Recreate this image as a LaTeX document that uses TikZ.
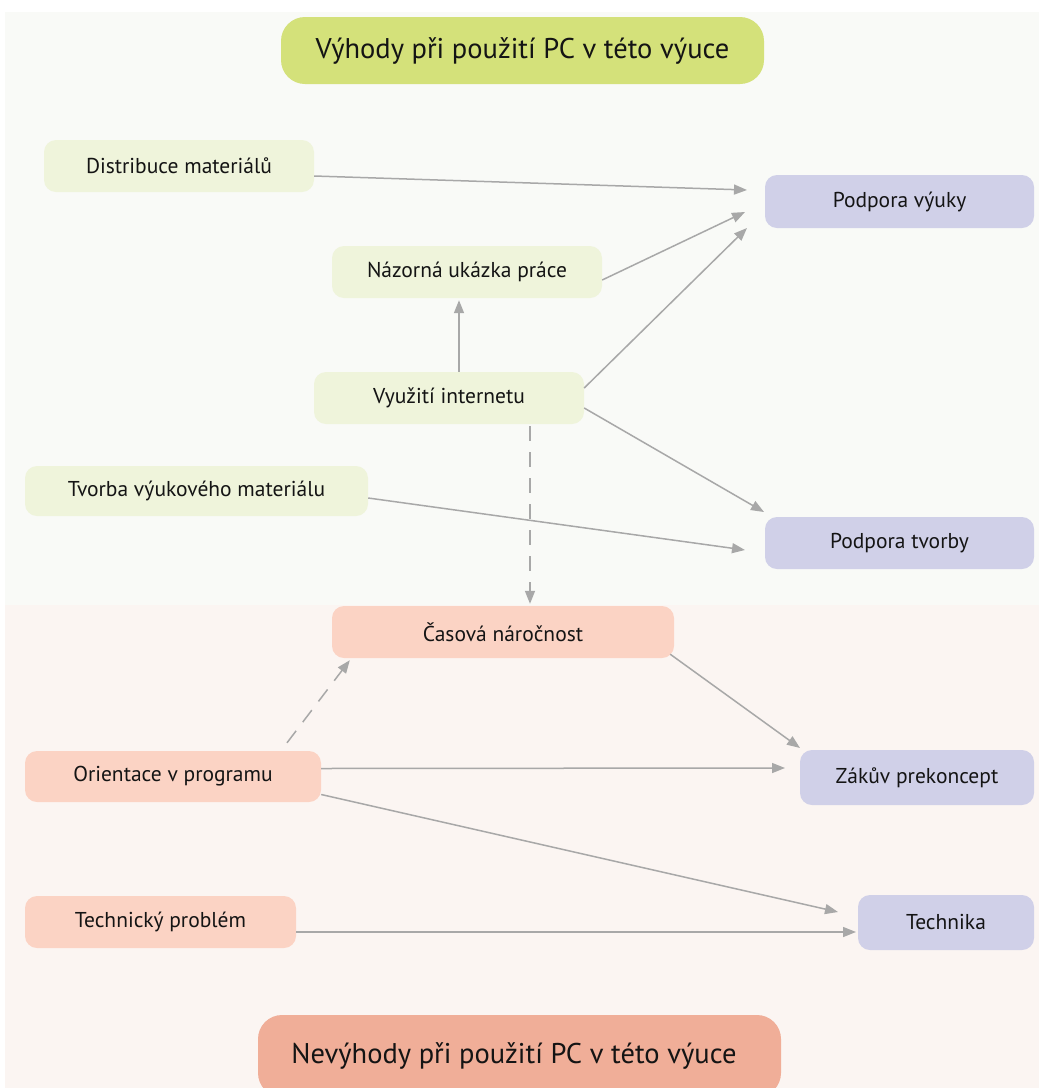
\documentclass[tikz,border=0pt]{standalone}
\usepackage{fontspec}
\setmainfont{PT Sans}
\usetikzlibrary{arrows.meta,calc}
\definecolor{bgtop}{RGB}{249,250,247}
\definecolor{bgbot}{RGB}{251,245,242}
\definecolor{gtitle}{RGB}{212,225,122}
\definecolor{gnode}{RGB}{239,244,219}
\definecolor{lav}{RGB}{208,208,232}
\definecolor{snode}{RGB}{251,211,196}
\definecolor{stitle}{RGB}{240,174,152}
\definecolor{arr}{RGB}{168,168,168}
\definecolor{txt}{RGB}{20,20,20}
\tikzset{
  box/.style={rounded corners=12pt, inner sep=0pt, text=txt, font=\fontsize{21.5}{25}\selectfont},
  gbox/.style={box, fill=gnode},
  lbox/.style={box, fill=lav},
  sbox/.style={box, fill=snode},
  titlebox/.style={box, rounded corners=24pt, font=\fontsize{28.5}{32}\selectfont},
  conn/.style={draw=arr, line width=1.5pt, -{Triangle[length=13pt,width=10pt]}, arr},
  dconn/.style={conn, dash pattern=on 15pt off 11pt},
}
\begin{document}
\begin{tikzpicture}[x=1pt,y=-1pt]
\clip (0,0) rectangle (1039,1088);
\useasboundingbox (0,0) rectangle (1039,1088);
\fill[white] (0,0) rectangle (1039,1088);
\fill[bgtop] (5,12) rectangle (1039,605);
\fill[bgbot] (5,605) rectangle (1039,1088);

\node[titlebox, fill=gtitle, minimum width=483, minimum height=67] (t1) at (522.5,50.5) {Výhody při použití PC v této výuce};
\node[gbox, minimum width=270, minimum height=52] (dist) at (179,166) {Distribuce materiálů};
\node[lbox, minimum width=269, minimum height=53] (pv) at (899.5,201.5) {Podpora výuky};
\node[gbox, minimum width=270, minimum height=52] (naz) at (467,272) {Názorná ukázka práce};
\node[gbox, minimum width=270, minimum height=52] (vyu) at (449,398) {Využití internetu};
\node[gbox, minimum width=343, minimum height=50] (tvo) at (196.5,491) {Tvorba výukového materiálu};
\node[lbox, minimum width=269, minimum height=52] (pt) at (899.5,543) {Podpora tvorby};
\node[sbox, minimum width=342, minimum height=52] (cas) at (503,632) {Časová náročnost};
\node[sbox, minimum width=296, minimum height=51] (ori) at (173,776.5) {Orientace v programu};
\node[lbox, minimum width=234, minimum height=55] (zak) at (917,777.5) {Zákův prekoncept};
\node[sbox, minimum width=271, minimum height=52] (tp) at (160.5,922) {Technický problém};
\node[lbox, minimum width=176, minimum height=55] (tech) at (946,922.5) {Technika};
\node[titlebox, fill=stitle, minimum width=523, minimum height=82] (t2) at (519.5,1056) {};
\node[text=txt, font=\fontsize{28.5}{32}\selectfont] (t2t) at (514,1056) {Nevýhody při použití PC v této výuce};

\coordinate (e1) at (747,190);
\coordinate (e2) at (745,212);
\coordinate (e3) at (747,228);
\coordinate (e4) at (764,512);
\coordinate (e7) at (745,550);
\coordinate (e8) at (800,748);
\coordinate (e10) at (785,768);
\coordinate (e11) at (838,912);
\coordinate (e12) at (856,932);

\draw[conn] ($(dist.east)+(0,10)$) -- (e1);
\draw[conn] ($(naz.east)+(0,8)$) -- (e2);
\draw[conn] ($(vyu.east)+(0,-10)$) -- (e3);
\draw[conn] ($(vyu.east)+(0,10)$) -- (e4);
\draw[conn] ($(vyu.north)+(10,0)$) -- ($(naz.south)+(-8,2)$);
\draw[dconn] ($(vyu.south)+(81,2)$) -- ($(cas.north)+(27,-2)$);
\draw[conn] ($(tvo.east)+(0,7)$) -- (e7);
\draw[conn] ($(cas.south east)+(-4,-4)$) -- (e8);
\draw[dconn] ($(ori.north)+(114,-8)$) -- ($(cas.south west)+(18,2)$);
\draw[conn] ($(ori.east)+(0,-8)$) -- (e10);
\draw[conn] ($(ori.east)+(0,18)$) -- (e11);
\draw[conn] ($(tp.east)+(0,10)$) -- (e12);
\end{tikzpicture}
\end{document}
